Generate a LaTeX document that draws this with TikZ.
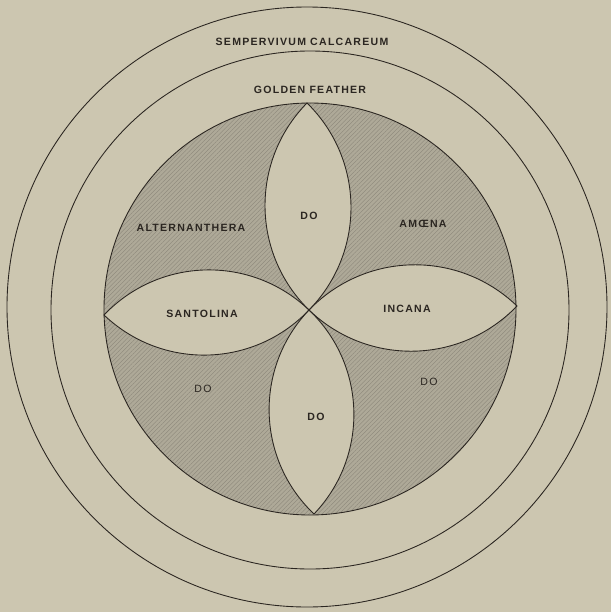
\documentclass[tikz,border=0pt]{standalone}
\usepackage{fontspec}
\setmainfont{Liberation Sans}
\newfontfamily\lblfont[LetterSpace=12]{Liberation Sans}
\usetikzlibrary{patterns.meta}
\definecolor{paper}{RGB}{204,198,176}
\definecolor{shadegrey}{RGB}{174,169,152}
\definecolor{hatchgrey}{RGB}{138,133,120}
\definecolor{ink}{RGB}{43,38,33}
\tikzset{
  ln/.style={draw=ink, line width=0.75pt},
  lbl/.style={font=\lblfont\bfseries\fontsize{9}{10}\selectfont, text=ink, inner sep=0pt},
  lbllight/.style={font=\lblfont\fontsize{9}{10}\selectfont, text=ink, inner sep=0pt},
  lensfill/.style={fill=paper},
}
\begin{document}
\begin{tikzpicture}[x=0.03cm,y=-0.03cm]
\fill[paper] (0,0) rectangle (611,612);
\useasboundingbox (0,0) rectangle (611,612);
% key points
\coordinate (O) at (310,309);
\coordinate (C) at (309,310);
\coordinate (T) at (307,103);
\coordinate (R) at (517,306);
\coordinate (B) at (314,514);
\coordinate (L) at (104,315);
% shaded disc
\fill[shadegrey] (O) circle (206);
\fill[pattern={Lines[angle=45,distance=2.6pt,line width=0.3pt]}, pattern color=hatchgrey] (O) circle (206);
% lenses
\fill[lensfill] (C) to[bend left=45] (T) to[bend left=45] (C) -- cycle;
\fill[lensfill] (C) to[bend left=45] (R) to[bend left=45] (C) -- cycle;
\fill[lensfill] (C) to[bend left=45] (B) to[bend left=45] (C) -- cycle;
\fill[lensfill] (C) to[bend left=45] (L) to[bend left=45] (C) -- cycle;
\draw[ln] (C) to[bend left=45] (T) to[bend left=45] (C);
\draw[ln] (C) to[bend left=45] (R) to[bend left=45] (C);
\draw[ln] (C) to[bend left=45] (B) to[bend left=45] (C);
\draw[ln] (C) to[bend left=45] (L) to[bend left=45] (C);
% circles
\draw[ln] (O) circle (206);
\draw[ln] (310,310) circle (259);
\draw[ln] (307,307) circle (300);
% labels
\node[lbl] (semp) at (302,42) {SEMPERVIVUM CALCAREUM};
\node[lbl] (gold) at (310,90) {GOLDEN FEATHER};
\node[lbl] (alt) at (191,228) {ALTERNANTHERA};
\node[lbl] (dotop) at (309,216) {DO};
\node[lbl] (amo) at (423,224) {AMŒNA};
\node[lbl] (sant) at (202,314) {SANTOLINA};
\node[lbl] (inc) at (407,309) {INCANA};
\node[lbllight] (doll) at (203,389) {DO};
\node[lbllight] (dolr) at (429,382) {DO};
\node[lbl] (dobot) at (316,417) {DO};
\end{tikzpicture}
\end{document}
